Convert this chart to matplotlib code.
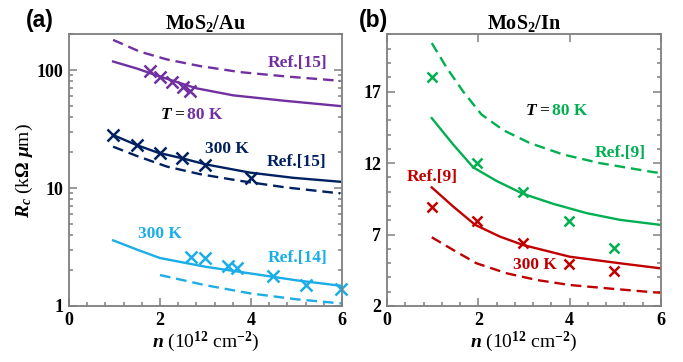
import numpy as np
import matplotlib
matplotlib.use("Agg")
import matplotlib.pyplot as plt
from matplotlib.ticker import MultipleLocator, FixedLocator, FixedFormatter, LogLocator, NullFormatter

plt.rcParams["font.family"] = ["Liberation Serif", "DejaVu Serif"]
plt.rcParams["font.weight"] = "bold"
plt.rcParams["mathtext.fontset"] = "custom"
plt.rcParams["mathtext.rm"] = "Liberation Serif:bold"
plt.rcParams["mathtext.it"] = "Liberation Serif:bold:italic"
plt.rcParams["mathtext.bf"] = "Liberation Serif:bold"

PURPLE = "#7030A0"
NAVY = "#002060"
CYAN = "#1AADE8"
GREEN = "#00B050"
RED = "#C00000"
SPINE = "#7F7F7F"

# ---- panel (a): MoS2/Au, log scale ----
au_80_ref_x = [0.97, 1.56, 2.15, 2.88, 3.76, 4.8, 5.96]
au_80_ref_y = [180, 143, 123, 108, 96, 88, 81]
au_80_fit_x = [0.97, 1.49, 2.0, 2.8, 3.61, 4.71, 5.96]
au_80_fit_y = [118, 103, 88, 70, 61, 55, 49.5]
au_80_exp_x = [1.78, 2.0, 2.26, 2.5, 2.66]
au_80_exp_y = [98.6, 88, 79.5, 71.3, 66.4]

au_300_fit_x = [0.97, 1.49, 1.96, 2.48, 2.99, 3.98, 4.93, 5.96]
au_300_fit_y = [28.1, 23.1, 19.9, 17.9, 15.9, 13.5, 12.2, 11.3]
au_300_ref_x = [0.97, 1.49, 2.15, 2.88, 3.76, 4.78, 5.96]
au_300_ref_y = [22.4, 18.7, 15.2, 13.1, 11.5, 10.1, 9.0]
au_300_exp_x = [0.97, 1.49, 2.0, 2.48, 3.0, 3.99]
au_300_exp_y = [28.1, 23.1, 19.9, 18.0, 15.7, 12.1]

au_300b_fit_x = [0.97, 1.5, 2.0, 3.0, 3.98, 5.0, 6.0]
au_300b_fit_y = [3.6, 3.0, 2.55, 2.15, 1.89, 1.65, 1.48]
au_300b_ref_x = [2.0, 3.0, 3.98, 5.0, 6.0]
au_300b_ref_y = [1.83, 1.5, 1.28, 1.14, 1.05]
au_300b_exp_x = [2.68, 3.0, 3.5, 3.7, 4.48, 5.2, 5.97]
au_300b_exp_y = [2.62, 2.54, 2.18, 2.11, 1.8, 1.5, 1.39]

# ---- panel (b): MoS2/In, linear scale ----
in_80_ref_x = [0.98, 1.31, 1.67, 2.07, 2.55, 3.13, 3.86, 4.66, 5.83, 6.0]
in_80_ref_y = [20.4, 18.66, 17.0, 15.4, 14.3, 13.4, 12.6, 12.0, 11.37, 11.3]
in_80_fit_x = [0.98, 1.45, 1.89, 2.4, 2.98, 3.64, 4.37, 5.1, 5.98]
in_80_fit_y = [15.15, 13.3, 11.7, 10.75, 9.85, 9.15, 8.5, 8.03, 7.68]
in_80_exp_x = [0.98, 1.96, 2.98, 3.98, 4.98]
in_80_exp_y = [18.0, 12.0, 9.97, 7.98, 6.04]

in_300_fit_x = [0.98, 1.45, 1.93, 2.47, 2.98, 4.0, 5.1, 5.98]
in_300_fit_y = [10.3, 8.96, 7.68, 6.86, 6.27, 5.45, 4.99, 4.64]
in_300_ref_x = [0.98, 1.45, 1.96, 2.62, 3.28, 4.0, 4.81, 5.83, 6.0]
in_300_ref_y = [6.81, 5.92, 4.99, 4.29, 3.82, 3.47, 3.24, 2.96, 2.93]
in_300_exp_x = [0.98, 1.96, 2.98, 3.98, 4.98]
in_300_exp_y = [8.96, 7.98, 6.44, 4.94, 4.47]

fig = plt.figure(figsize=(6.83, 3.62), dpi=100)
ax1 = fig.add_axes([0.101, 0.1547, 0.3997, 0.75])
ax2 = fig.add_axes([0.5666, 0.1547, 0.4012, 0.75])

lw = 1.7
dash = (0, (4.5, 2.5))
ms = 8.5
mew = 1.8
fs_text = 12.5


def style_axes(ax):
    for s in ax.spines.values():
        s.set_color(SPINE)
        s.set_linewidth(1.3)
    ax.tick_params(which="both", direction="in", color=SPINE, width=1.1,
                   labelsize=13, pad=4)
    ax.tick_params(which="major", length=6)
    ax.tick_params(which="minor", length=3)
    ax.set_xlim(0, 6)
    ax.xaxis.set_major_locator(MultipleLocator(2))
    ax.xaxis.set_minor_locator(MultipleLocator(0.4))
    ax.set_xlabel(r"$n$ (10$^{12}$ cm$^{-2}$)", fontsize=14, labelpad=1)


# panel a
ax1.plot(au_80_ref_x, au_80_ref_y, color=PURPLE, lw=lw, linestyle=dash)
ax1.plot(au_80_fit_x, au_80_fit_y, color=PURPLE, lw=lw)
ax1.plot(au_80_exp_x, au_80_exp_y, "x", color=PURPLE, ms=ms, mew=mew)
ax1.plot(au_300_ref_x, au_300_ref_y, color=NAVY, lw=lw, linestyle=dash)
ax1.plot(au_300_fit_x, au_300_fit_y, color=NAVY, lw=lw)
ax1.plot(au_300_exp_x, au_300_exp_y, "x", color=NAVY, ms=ms, mew=mew)
ax1.plot(au_300b_ref_x, au_300b_ref_y, color=CYAN, lw=lw, linestyle=dash)
ax1.plot(au_300b_fit_x, au_300b_fit_y, color=CYAN, lw=lw)
ax1.plot(au_300b_exp_x, au_300b_exp_y, "x", color=CYAN, ms=ms, mew=mew,
         clip_on=False)

ax1.set_yscale("log")
ax1.set_ylim(1, 200)
style_axes(ax1)
ax1.yaxis.set_major_locator(FixedLocator([1, 10, 100]))
ax1.yaxis.set_major_formatter(FixedFormatter(["1", "10", "100"]))
ax1.yaxis.set_minor_locator(LogLocator(base=10, subs=np.arange(2, 10)))
ax1.yaxis.set_minor_formatter(NullFormatter())
ax1.tick_params(which="both", left=True, right=True, top=False, bottom=True)
ax1.set_ylabel(r"$R_c$ (k$\Omega$ $\mu$m)", fontsize=14, labelpad=1)
ax1.set_title(r"MoS$_2$/Au", fontsize=14.5, fontweight="bold", pad=4)

ax1.text(5.02, 115, "Ref.[15]", color=PURPLE, fontsize=fs_text, ha="center", va="center")
ax1.text(2.59, 41.6, r"$T$ = ", color="black", fontsize=fs_text, ha="right", va="center")
ax1.text(2.59, 41.6, "80 K", color=PURPLE, fontsize=fs_text, ha="left", va="center")
ax1.text(3.48, 21.4, "300 K", color=NAVY, fontsize=fs_text, ha="center", va="center")
ax1.text(5.0, 16.7, "Ref.[15]", color=NAVY, fontsize=fs_text, ha="center", va="center")
ax1.text(2.0, 4.07, "300 K", color=CYAN, fontsize=fs_text, ha="center", va="center")
ax1.text(5.02, 2.54, "Ref.[14]", color=CYAN, fontsize=fs_text, ha="center", va="center")

# panel b
ax2.plot(in_80_ref_x, in_80_ref_y, color=GREEN, lw=lw, linestyle=dash)
ax2.plot(in_80_fit_x, in_80_fit_y, color=GREEN, lw=lw)
ax2.plot(in_80_exp_x, in_80_exp_y, "x", color=GREEN, ms=ms * 0.85, mew=mew)
ax2.plot(in_300_ref_x, in_300_ref_y, color=RED, lw=lw, linestyle=dash)
ax2.plot(in_300_fit_x, in_300_fit_y, color=RED, lw=lw)
ax2.plot(in_300_exp_x, in_300_exp_y, "x", color=RED, ms=ms * 0.85, mew=mew)

ax2.set_ylim(2, 21)
style_axes(ax2)
ax2.yaxis.set_major_locator(FixedLocator([2, 7, 12, 17]))
ax2.yaxis.set_minor_locator(MultipleLocator(1))
ax2.tick_params(which="both", left=True, right=True, bottom=True)
ax2.tick_params(which="major", top=True)
ax2.tick_params(which="minor", top=False)
ax2.set_title(r"MoS$_2$/In", fontsize=14.5, fontweight="bold", pad=4)

ax2.text(3.61, 15.67, r"$T$ = ", color="black", fontsize=fs_text, ha="right", va="center")
ax2.text(3.61, 15.67, "80 K", color=GREEN, fontsize=fs_text, ha="left", va="center")
ax2.text(5.1, 12.7, "Ref.[9]", color=GREEN, fontsize=fs_text, ha="center", va="center")
ax2.text(1.0, 11.06, "Ref.[9]", color=RED, fontsize=fs_text, ha="center", va="center")
ax2.text(3.24, 4.87, "300 K", color=RED, fontsize=fs_text, ha="center", va="center")

# panel letters
fig.text(40 / 683, 1 - 21 / 362, "(a)", fontsize=16.5, fontweight="bold",
         family="Liberation Sans", ha="center", va="center")
fig.text(373 / 683, 1 - 21 / 362, "(b)", fontsize=16.5, fontweight="bold",
         family="Liberation Sans", ha="center", va="center")

fig.savefig("out.png", dpi=100)
